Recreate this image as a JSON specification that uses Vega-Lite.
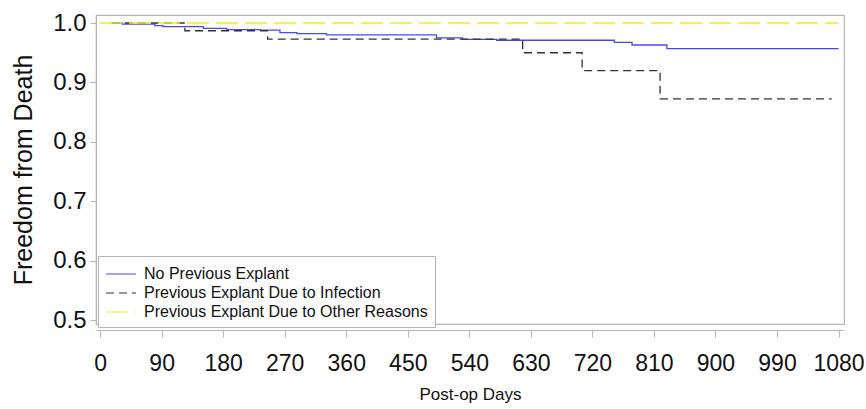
{
  "$schema": "https://vega.github.io/schema/vega-lite/v6.json",
  "autosize": {"type": "none"},
  "padding": {"left": 96, "top": 15, "right": 22, "bottom": 85},
  "width": 748,
  "height": 309,
  "background": "white",
  "config": {
    "font": "Liberation Sans",
    "view": {"stroke": "#b5b5b5", "strokeWidth": 1.2},
    "axis": {"grid": false, "domainColor": "#b5b5b5", "tickColor": "#b5b5b5", "labelColor": "#111", "titleColor": "#111", "labelFont": "Liberation Sans", "titleFont": "Liberation Sans", "titleFontWeight": "normal"},
    "legend": {"labelFont": "Liberation Sans"}
  },
  "data": {
    "values": [
      {"day": 17, "surv": 1.0, "group": "No Previous Explant"},
      {"day": 32, "surv": 0.998, "group": "No Previous Explant"},
      {"day": 80, "surv": 0.9955, "group": "No Previous Explant"},
      {"day": 92, "surv": 0.994, "group": "No Previous Explant"},
      {"day": 151, "surv": 0.991, "group": "No Previous Explant"},
      {"day": 185, "surv": 0.989, "group": "No Previous Explant"},
      {"day": 234, "surv": 0.988, "group": "No Previous Explant"},
      {"day": 263, "surv": 0.984, "group": "No Previous Explant"},
      {"day": 288, "surv": 0.982, "group": "No Previous Explant"},
      {"day": 331, "surv": 0.98, "group": "No Previous Explant"},
      {"day": 492, "surv": 0.975, "group": "No Previous Explant"},
      {"day": 530, "surv": 0.9725, "group": "No Previous Explant"},
      {"day": 580, "surv": 0.971, "group": "No Previous Explant"},
      {"day": 752, "surv": 0.9675, "group": "No Previous Explant"},
      {"day": 778, "surv": 0.963, "group": "No Previous Explant"},
      {"day": 829, "surv": 0.957, "group": "No Previous Explant"},
      {"day": 1080, "surv": 0.957, "group": "No Previous Explant"},
      {"day": 17, "surv": 1.0, "group": "Previous Explant Due to Infection"},
      {"day": 124, "surv": 0.987, "group": "Previous Explant Due to Infection"},
      {"day": 245, "surv": 0.973, "group": "Previous Explant Due to Infection"},
      {"day": 618, "surv": 0.95, "group": "Previous Explant Due to Infection"},
      {"day": 705, "surv": 0.92, "group": "Previous Explant Due to Infection"},
      {"day": 819, "surv": 0.8725, "group": "Previous Explant Due to Infection"},
      {"day": 1070, "surv": 0.8725, "group": "Previous Explant Due to Infection"},
      {"day": 0, "surv": 1.0, "group": "Previous Explant Due to Other Reasons"},
      {"day": 1080, "surv": 1.0, "group": "Previous Explant Due to Other Reasons"}
    ]
  },
  "mark": {"type": "line", "interpolate": "step-after", "strokeWidth": 1.3, "clip": true},
  "encoding": {
    "x": {
      "field": "day", "type": "quantitative",
      "scale": {"domain": [-6, 1088], "nice": false, "zero": false},
      "axis": {"values": [0, 90, 180, 270, 360, 450, 540, 630, 720, 810, 900, 990, 1080], "format": "d", "offset": 6, "tickSize": 7, "labelFontSize": 23, "labelPadding": 15, "title": "Post-op Days", "titleFontSize": 17, "titlePadding": 11}
    },
    "y": {
      "field": "surv", "type": "quantitative",
      "scale": {"domain": [0.4935, 1.0135], "nice": false, "zero": false},
      "axis": {"values": [0.5, 0.6, 0.7, 0.8, 0.9, 1.0], "format": ".1f", "tickSize": 6, "labelFontSize": 24, "labelPadding": 4, "title": "Freedom from Death", "titleFontSize": 25, "titlePadding": 16}
    },
    "color": {
      "field": "group", "type": "nominal",
      "scale": {"domain": ["No Previous Explant", "Previous Explant Due to Infection", "Previous Explant Due to Other Reasons"], "range": ["#4646ff", "#333333", "#f0f010"]},
      "legend": {"title": null, "orient": "none", "legendX": 2, "legendY": 241, "symbolType": "M-1.5,0H1.5", "symbolSize": 400, "symbolOffset": 5, "symbolStrokeWidth": 1.2, "labelFontSize": 16, "labelColor": "#111", "labelLimit": 400, "rowPadding": 0, "padding": 7, "labelOffset": 12, "strokeColor": "#b5b5b5", "fillColor": "white"}
    },
    "strokeDash": {
      "field": "group", "type": "nominal",
      "scale": {"domain": ["No Previous Explant", "Previous Explant Due to Infection", "Previous Explant Due to Other Reasons"], "range": [[1, 0], [8, 5], [22, 7]]},
      "legend": {"title": null, "orient": "none", "legendX": 2, "legendY": 241, "symbolType": "M-1.5,0H1.5", "symbolSize": 400, "symbolOffset": 5, "symbolStrokeWidth": 1.2, "labelFontSize": 16, "labelColor": "#111", "labelLimit": 400, "rowPadding": 0, "padding": 7, "labelOffset": 12, "strokeColor": "#b5b5b5", "fillColor": "white"}
    }
  }
}
